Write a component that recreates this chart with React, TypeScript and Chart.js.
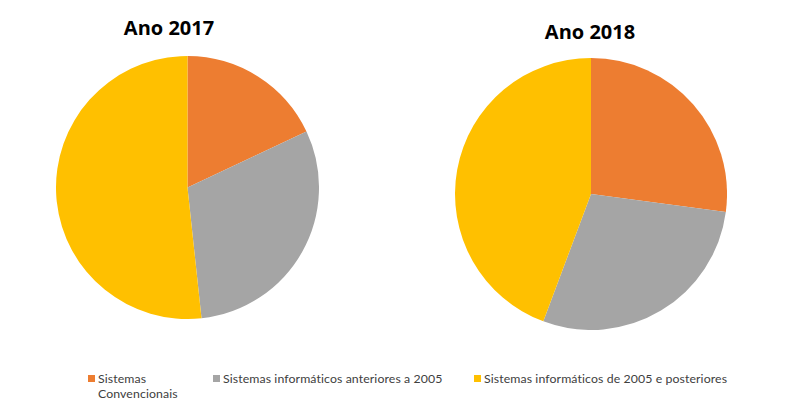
import React, { useEffect, useRef } from "react";
import { Chart, registerables } from "chart.js";

Chart.register(...registerables);

const categories = [
  "Sistemas Convencionais",
  "Sistemas informáticos anteriores a 2005",
  "Sistemas informáticos de 2005 e posteriores",
];
const legendLines = [["Sistemas", "Convencionais"], ["Sistemas informáticos anteriores a 2005"], ["Sistemas informáticos de 2005 e posteriores"]];
const values2017 = [18.0, 30.3, 51.7];
const values2018 = [27.1, 28.6, 44.3];
const colors = ["#ED7D31", "#A5A5A5", "#FFC000"];

function Pie({ values, size, left, top }: { values: number[]; size: number; left: number; top: number }) {
  const ref = useRef<HTMLCanvasElement>(null);
  useEffect(() => {
    if (!ref.current) return;
    const chart = new Chart(ref.current, {
      type: "pie",
      data: {
        labels: categories,
        datasets: [{ data: values, backgroundColor: colors, borderWidth: 0 }],
      },
      options: {
        responsive: false,
        animation: false,
        layout: { padding: 0 },
        plugins: { legend: { display: false }, tooltip: { enabled: false } },
      },
    });
    return () => chart.destroy();
  }, []);
  return (
    <canvas
      ref={ref}
      width={size}
      height={size}
      style={{ position: "absolute", left, top, width: size, height: size }}
    />
  );
}

const titleStyle: React.CSSProperties = {
  position: "absolute",
  fontFamily: "'Open Sans', sans-serif",
  fontWeight: 700,
  fontSize: 20,
  color: "#000",
  transform: "translateX(-50%)",
  whiteSpace: "nowrap",
  lineHeight: "24px",
};

const legendText: React.CSSProperties = {
  position: "absolute",
  fontFamily: "Lato, sans-serif",
  fontSize: 12.3,
  letterSpacing: 0.1,
  color: "#404040",
  lineHeight: "15px",
  whiteSpace: "nowrap",
};

export default function App() {
  const markerX = [88, 213, 474];
  return (
    <div style={{ position: "fixed", left: 0, top: 0, width: 806, height: 415, background: "#fff", overflow: "hidden" }}>
      <div style={{ ...titleStyle, left: 169, top: 16 }}>Ano 2017</div>
      <div style={{ ...titleStyle, left: 590, top: 20 }}>Ano 2018</div>
      <Pie values={values2017} size={263} left={56} top={56} />
      <Pie values={values2018} size={272} left={455} top={58} />
      {categories.map((c, i) => (
        <React.Fragment key={c}>
          <div
            style={{
              position: "absolute",
              left: markerX[i],
              top: 375,
              width: 7,
              height: 7,
              background: colors[i],
            }}
          />
          <div style={{ ...legendText, left: markerX[i] + 10, top: 371 }}>
            {legendLines[i].map((l, j) => (
              <div key={j}>{l}</div>
            ))}
          </div>
        </React.Fragment>
      ))}
    </div>
  );
}
